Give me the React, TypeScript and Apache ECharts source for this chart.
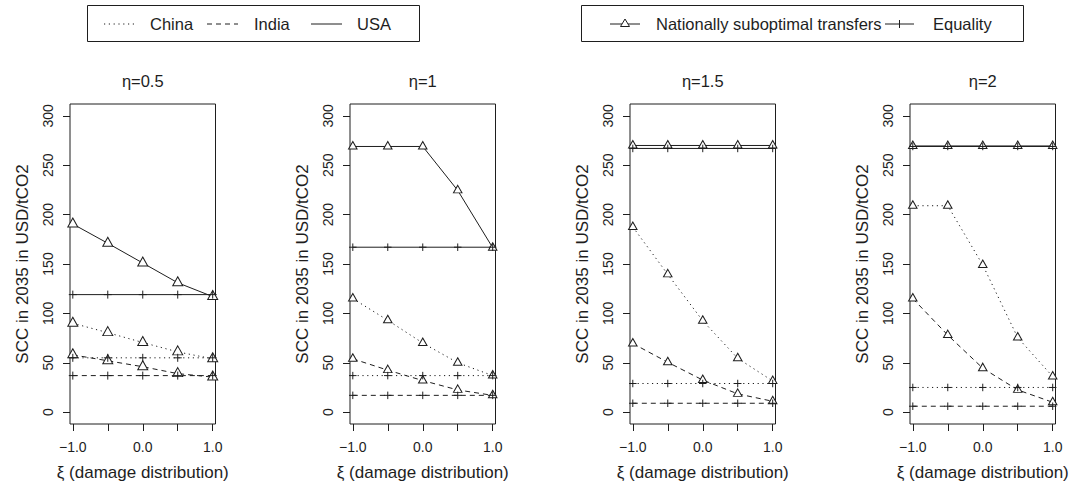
import React, { useEffect, useRef } from "react";
import * as echarts from "echarts";

// ---- data ----
const XI = [-1, -0.5, 0, 0.5, 1];
const X_LABELS = [-1, 0, 1];
const Y_TICKS = [0, 50, 100, 150, 200, 250, 300];
const ETA_TITLES = ["η=0.5", "η=1", "η=1.5", "η=2"];

// Nationally suboptimal transfers (triangles), one row per η panel
const CHINA_TRANSFERS = [
  [90, 80.5, 70.5, 61, 54],
  [115, 93, 70, 50, 37],
  [187.5, 139.5, 92.5, 54.5, 31.5],
  [209, 209, 149, 75.5, 36],
];
const INDIA_TRANSFERS = [
  [58, 52, 46, 39, 35.5],
  [54, 42.5, 32, 22.5, 17],
  [69.5, 50.5, 32.5, 18.5, 11],
  [115, 78, 44.5, 22.5, 10],
];
const USA_TRANSFERS = [
  [190.5, 171, 151, 131, 117],
  [269, 269, 269, 224.5, 166.5],
  [270, 270, 270, 270, 270],
  [269.5, 269.5, 269.5, 269.5, 269.5],
];
// Equality (plus marks)
const CHINA_EQUALITY = [
  [55, 55, 55, 55, 55],
  [37, 37, 37, 37, 37],
  [29, 29, 29, 29, 29],
  [25, 25, 25, 25, 25],
];
const INDIA_EQUALITY = [
  [37, 37, 37, 37, 37],
  [17, 17, 17, 17, 17],
  [9, 9, 9, 9, 9],
  [6, 6, 6, 6, 6],
];
const USA_EQUALITY = [
  [119, 119, 119, 119, 119],
  [167, 167, 167, 167, 167],
  [267, 267, 267, 267, 267],
  [269, 269, 269, 269, 269],
];

const INK = "#1e1e1e";
const FONT = '"Liberation Sans", Arial, Helvetica, sans-serif';
const DOTTED = [1.2, 3.6];
const DASHED = [5, 4];
const PLUS = "path://M5,0 L5,10 M0,5 L10,5";

export default function App() {
  const ref = useRef<HTMLDivElement>(null);
  useEffect(() => {
    if (!ref.current) return;
    const chart = echarts.init(ref.current, null, { renderer: "svg" });
    const lefts = [70, 350, 630, 910];
    const W = 145.5;
    const TOP = 104;
    const H = 320;

    const grids: any[] = [];
    const xAxes: any[] = [];
    const yAxes: any[] = [];
    const series: any[] = [];
    const graphics: any[] = [];

    ETA_TITLES.forEach((title, i) => {
      grids.push({
        left: lefts[i], top: TOP, width: W, height: H,
        show: true, borderColor: INK, borderWidth: 1, backgroundColor: "transparent",
      });
      xAxes.push({
        gridIndex: i, type: "value", min: -1.04, max: 1.04, position: "bottom",
        axisLine: { show: false, onZero: false }, splitLine: { show: false },
        axisTick: { show: true, customValues: XI, length: 7, lineStyle: { color: INK, width: 1 } },
        axisLabel: {
          customValues: X_LABELS, margin: 16, fontSize: 14, fontFamily: FONT, color: INK,
          formatter: (v: number) => v.toFixed(1).replace("-", "\u2212"),
        },
        name: "ξ (damage distribution)", nameLocation: "middle", nameGap: 40,
        nameTextStyle: { fontSize: 17, fontFamily: FONT, color: INK },
      });
      yAxes.push({
        gridIndex: i, type: "value", min: -12, max: 312, position: "left",
        axisLine: { show: false, onZero: false }, splitLine: { show: false },
        axisTick: { show: true, customValues: Y_TICKS, length: 7, lineStyle: { color: INK, width: 1 } },
        axisLabel: {
          customValues: Y_TICKS, rotate: 90, margin: 15, fontSize: 14, fontFamily: FONT, color: INK,
        },
        name: "SCC in 2035 in USD/tCO2", nameLocation: "middle", nameGap: 39, nameRotate: 90,
        nameTextStyle: { fontSize: 17, fontFamily: FONT, color: INK },
      });
      graphics.push({
        type: "text", x: lefts[i] + W / 2, y: 81,
        style: { text: title, fontSize: 16.5, fontFamily: FONT, fill: INK, align: "center", verticalAlign: "middle" },
      });

      const triW = i === 0 ? 10 : 8.5;
      const triH = i === 0 ? 9 : 7.5;
      const plusS = i === 0 ? 8 : 7.5;
      const triSeries = [
        [CHINA_TRANSFERS, DOTTED, "China"],
        [INDIA_TRANSFERS, DASHED, "India"],
        [USA_TRANSFERS, "solid", "USA"],
      ] as any[];
      const eqSeries = [
        [CHINA_EQUALITY, DOTTED, "China"],
        [INDIA_EQUALITY, DASHED, "India"],
        [USA_EQUALITY, "solid", "USA"],
      ] as any[];
      triSeries.forEach(([arr, dash, name]) => {
        series.push({
          type: "line", name: name + " transfers", xAxisIndex: i, yAxisIndex: i,
          data: XI.map((x, k) => [x, arr[i][k]]),
          symbol: "triangle", symbolSize: [triW, triH], symbolOffset: [0, -triH * 0.17],
          showSymbol: true, silent: true,
          itemStyle: { color: "#ffffff", borderColor: INK, borderWidth: 1 },
          lineStyle: { color: INK, width: 1, type: dash },
        });
      });
      eqSeries.forEach(([arr, dash, name]) => {
        series.push({
          type: "line", name: name + " equality", xAxisIndex: i, yAxisIndex: i,
          data: XI.map((x, k) => [x, arr[i][k]]),
          symbol: PLUS, symbolSize: plusS,
          showSymbol: true, silent: true,
          itemStyle: { color: "none", borderColor: INK, borderWidth: 1 },
          lineStyle: { color: INK, width: 1, type: dash },
        });
      });
    });

    // legend 1 (countries)
    const ly = 24;
    const lt = (text: string, x: number) => ({
      type: "text", x, y: ly,
      style: { text, fontSize: 16.5, fontFamily: FONT, fill: INK, verticalAlign: "middle" },
    });
    graphics.push({ type: "rect", shape: { x: 87.5, y: 5.5, width: 332, height: 36 }, style: { fill: "none", stroke: INK, lineWidth: 1 } });
    graphics.push({ type: "line", shape: { x1: 104, y1: ly, x2: 135, y2: ly }, style: { stroke: INK, lineWidth: 1, lineDash: DOTTED } });
    graphics.push(lt("China", 150));
    graphics.push({ type: "line", shape: { x1: 207, y1: ly, x2: 238, y2: ly }, style: { stroke: INK, lineWidth: 1, lineDash: DASHED } });
    graphics.push(lt("India", 254));
    graphics.push({ type: "line", shape: { x1: 311, y1: ly, x2: 342, y2: ly }, style: { stroke: INK, lineWidth: 1 } });
    graphics.push(lt("USA", 357));

    // legend 2 (regimes)
    graphics.push({ type: "rect", shape: { x: 581.5, y: 5.5, width: 442, height: 36 }, style: { fill: "none", stroke: INK, lineWidth: 1 } });
    graphics.push({ type: "line", shape: { x1: 610, y1: ly, x2: 640, y2: ly }, style: { stroke: INK, lineWidth: 1 } });
    graphics.push({ type: "polygon", shape: { points: [[625, ly - 5], [629.5, ly + 2.5], [620.5, ly + 2.5]] }, style: { fill: "#fff", stroke: INK, lineWidth: 1 } });
    graphics.push(lt("Nationally suboptimal transfers", 656));
    graphics.push({ type: "line", shape: { x1: 885, y1: ly, x2: 914, y2: ly }, style: { stroke: INK, lineWidth: 1 } });
    graphics.push({ type: "line", shape: { x1: 899.5, y1: ly - 4, x2: 899.5, y2: ly + 4 }, style: { stroke: INK, lineWidth: 1 } });
    graphics.push(lt("Equality", 933));

    chart.setOption({
      animation: false,
      backgroundColor: "#ffffff",
      grid: grids,
      xAxis: xAxes,
      yAxis: yAxes,
      series,
      graphic: graphics,
    });
    return () => chart.dispose();
  }, []);

  return (
    <div
      ref={ref}
      style={{ position: "fixed", left: 0, top: 0, width: 1077, height: 486, background: "#fff" }}
    />
  );
}
